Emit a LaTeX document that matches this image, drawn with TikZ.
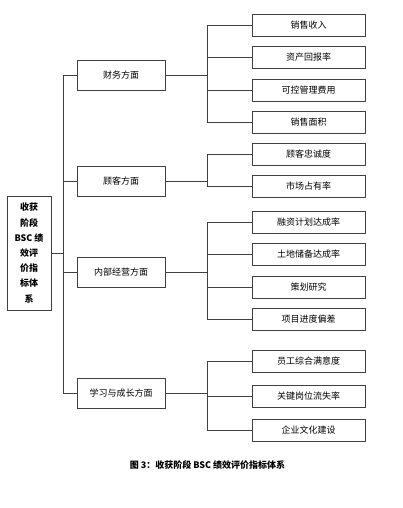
\documentclass[tikz,border=0pt]{standalone}
\usepackage{fontspec}
\setmainfont{Noto Sans CJK SC}
\begin{document}
\begin{tikzpicture}[x=1pt,y=-1pt,
  line/.style={draw=black!75, line width=0.8pt},
  rootbox/.style={line, minimum width=44pt, minimum height=114pt, inner sep=0pt, align=center, font=\fontsize{9}{15.2}\selectfont\bfseries},
  lvone/.style={line, minimum width=88pt, minimum height=30pt, inner sep=0pt, font=\fontsize{9}{11}\selectfont},
  lvtwo/.style={line, minimum width=113pt, minimum height=22pt, inner sep=0pt, font=\fontsize{9}{11}\selectfont},
  conn/.style={line, line width=0.7pt}
]
\useasboundingbox (0,0) rectangle (402,508);
\fill[white] (0,0) rectangle (402,508);

\node[rootbox] (root) at (29,253) {收获\\阶段\\BSC 绩\\效评\\价指\\标体\\系};

\node[lvone] (f) at (121,75) {财务方面};
\node[lvone] (c) at (121,181) {顾客方面};
\node[lvone] (i) at (121,272) {内部经营方面};
\node[lvone] (l) at (121,393) {学习与成长方面};

\node[lvtwo] (f1) at (308.5,25) {销售收入};
\node[lvtwo] (f2) at (308.5,57) {资产回报率};
\node[lvtwo] (f3) at (308.5,90) {可控管理费用};
\node[lvtwo] (f4) at (308.5,122) {销售面积};

\node[lvtwo] (c1) at (308.5,154) {顾客忠诚度};
\node[lvtwo] (c2) at (308.5,186) {市场占有率};

\node[lvtwo] (i1) at (308.5,222) {融资计划达成率};
\node[lvtwo] (i2) at (308.5,254) {土地储备达成率};
\node[lvtwo] (i3) at (308.5,287) {策划研究};
\node[lvtwo] (i4) at (308.5,319) {项目进度偏差};

\node[lvtwo] (l1) at (308.5,361) {员工综合满意度};
\node[lvtwo] (l2) at (308.5,396) {关键岗位流失率};
\node[lvtwo] (l3) at (308.5,430) {企业文化建设};

\foreach \t in {f,c,i,l}
  \draw[conn] (root.east) -- ++(12,0) |- (\t.west);

\foreach \t in {f1,f2,f3,f4}
  \draw[conn] (f.east) -- ++(42,0) |- (\t.west);
\foreach \t in {c1,c2}
  \draw[conn] (c.east) -- ++(42,0) |- (\t.west);
\foreach \t in {i1,i2,i3,i4}
  \draw[conn] (i.east) -- ++(42,0) |- (\t.west);
\foreach \t in {l1,l2,l3}
  \draw[conn] (l.east) -- ++(42,0) |- (\t.west);

\node[font=\fontsize{9}{11}\selectfont\bfseries] (cap) at (207.5,465) {图 3：收获阶段 BSC 绩效评价指标体系};
\end{tikzpicture}
\end{document}
